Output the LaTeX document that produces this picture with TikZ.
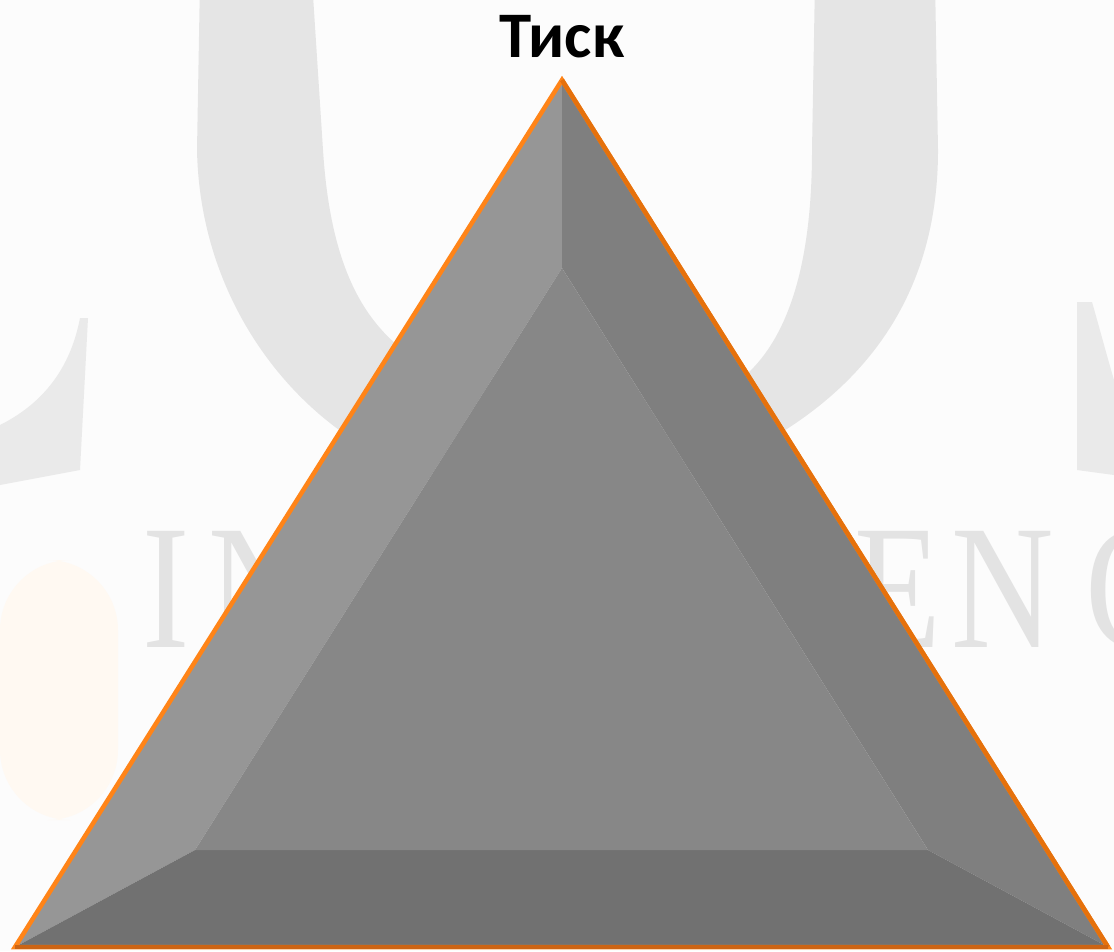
\documentclass[tikz,border=0pt]{standalone}
\usepackage{fontspec}
\setmainfont{Carlito}
\newfontfamily\markfont[FakeStretch=0.8]{Liberation Serif}
\definecolor{faceL}{HTML}{969696}
\definecolor{faceR}{HTML}{7F7F7F}
\definecolor{faceB}{HTML}{717171}
\definecolor{faceC}{HTML}{878787}
\definecolor{rimL}{HTML}{FF8418}
\definecolor{rimR}{HTML}{E5710C}
\definecolor{rimB}{HTML}{CC6414}
\definecolor{wmark}{HTML}{E5E5E5}
\tikzset{
  markletter/.style={anchor=base,text=black!11,inner sep=0pt,
    font=\markfont\fontsize{101pt}{101pt}\selectfont},
  rim/.style={line width=0.09cm,line join=miter}
}

\begin{document}
\begin{tikzpicture}[x=0.02cm,y=-0.02cm]
  \fill[white!99!black] (0,0) rectangle (1114,951);
  \useasboundingbox (0,0) rectangle (1114,951);
  % faint logo behind the triangle
  \fill[wmark,even odd rule]
    (200,-20) -- (197,150) .. controls (200,300) and (290,410) .. (380,455)
      .. controls (470,500) and (660,500) .. (760,445)
      .. controls (860,390) and (938,300) .. (938,150) -- (935,-20) -- cycle
    (312,-20) -- (323,150) .. controls (330,260) and (360,320) .. (410,355)
      .. controls (480,405) and (680,410) .. (740,380)
      .. controls (790,340) and (812,260) .. (812,150) -- (815,-20) -- cycle;
  \fill[wmark!80!white] (88,318)--(80,470)--(0,485)--(0,425)
    .. controls (50,400) and (72,360) .. (80,318)--cycle;
  \fill[wmark!80!white] (1077,302)--(1092,302)
    .. controls (1100,330) and (1108,360) .. (1114,380)--(1114,475)--(1077,470)--cycle;
  \fill[orange!5,rounded corners=40] (0,560) rectangle (118,820);
  \foreach \l/\x in {I/166,N/260,E/898,N/1003,C/1133}
    \node[markletter] (mark\x) at (\x,647) {\l};
  % bevelled triangle
  \coordinate (top) at (562,80);
  \coordinate (botL) at (15,947);
  \coordinate (botR) at (1108,947);
  \coordinate (inTop) at (562,268);
  \coordinate (inL) at (195,850);
  \coordinate (inR) at (928,850);
  \fill[faceL] (top)--(botL)--(inL)--(inTop)--cycle;
  \fill[faceR] (top)--(inTop)--(inR)--(botR)--cycle;
  \fill[faceB] (botL)--(botR)--(inR)--(inL)--cycle;
  \fill[faceC] (inTop)--(inL)--(inR)--cycle;
  \draw[rim,rimL] (top)--(botL)--(botR)--cycle;
  \draw[rim,rimR] (top)--(botR);
  \draw[rim,rimB] (botL)--(botR);
  \node[anchor=base,inner sep=0pt,font=\bfseries\fontsize{37pt}{37pt}\selectfont]
    (title) at (562,57) {Тиск};
\end{tikzpicture}
\end{document}
